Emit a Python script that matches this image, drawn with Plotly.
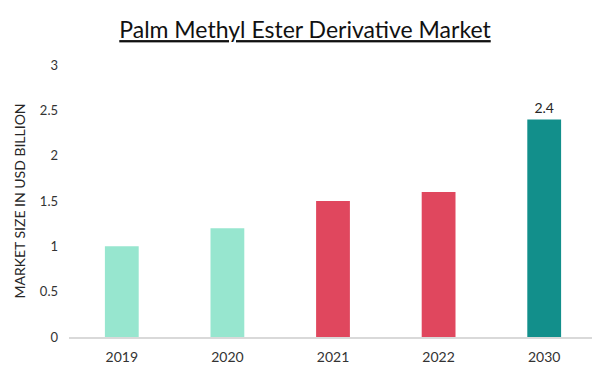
import plotly.graph_objects as go

years = ["2019", "2020", "2021", "2022", "2030"]
values = [1.0, 1.2, 1.5, 1.6, 2.4]
colors = ["#97e6cf", "#97e6cf", "#e0475e", "#e0475e", "#128f8b"]
labels = ["", "", "", "", "2.4"]
y_ticks = [0, 0.5, 1, 1.5, 2, 2.5, 3]
y_tick_text = ["0", "0.5", "1", "1.5", "2", "2.5", "3"]

fig = go.Figure(go.Bar(
    x=years, y=values, marker=dict(color=colors, line=dict(width=0)),
    width=0.32, text=labels, textposition="outside",
    textfont=dict(size=14, color="#262626", family="Lato"),
    cliponaxis=False,
))

fig.update_layout(
    width=600, height=380,
    margin=dict(l=61, r=11, t=57, b=51),
    paper_bgcolor="white", plot_bgcolor="white",
    title=dict(text="<u>Palm Methyl Ester Derivative Market</u>",
               x=0.495, xanchor="center", y=0.942, yanchor="middle",
               font=dict(family="Lato", size=23, color="#111111")),
    font=dict(family="Lato", color="#333333", size=12),
    showlegend=False,
)
fig.update_xaxes(showline=True, linecolor="#d9d9d9", linewidth=1.5,
                 ticks="", ticklabelstandoff=6,
                 tickfont=dict(size=14, color="#333333"),
                 showgrid=False)
fig.update_yaxes(range=[0, 3], tickvals=y_ticks, ticktext=y_tick_text,
                 showgrid=False, zeroline=False, showline=False,
                 ticks="", ticklabelstandoff=10,
                 tickfont=dict(size=13, color="#333333"),
                 title=dict(text="MARKET SIZE IN USD BILLION", standoff=10,
                            font=dict(size=14, color="#262626")))

fig.write_html("out.html")
